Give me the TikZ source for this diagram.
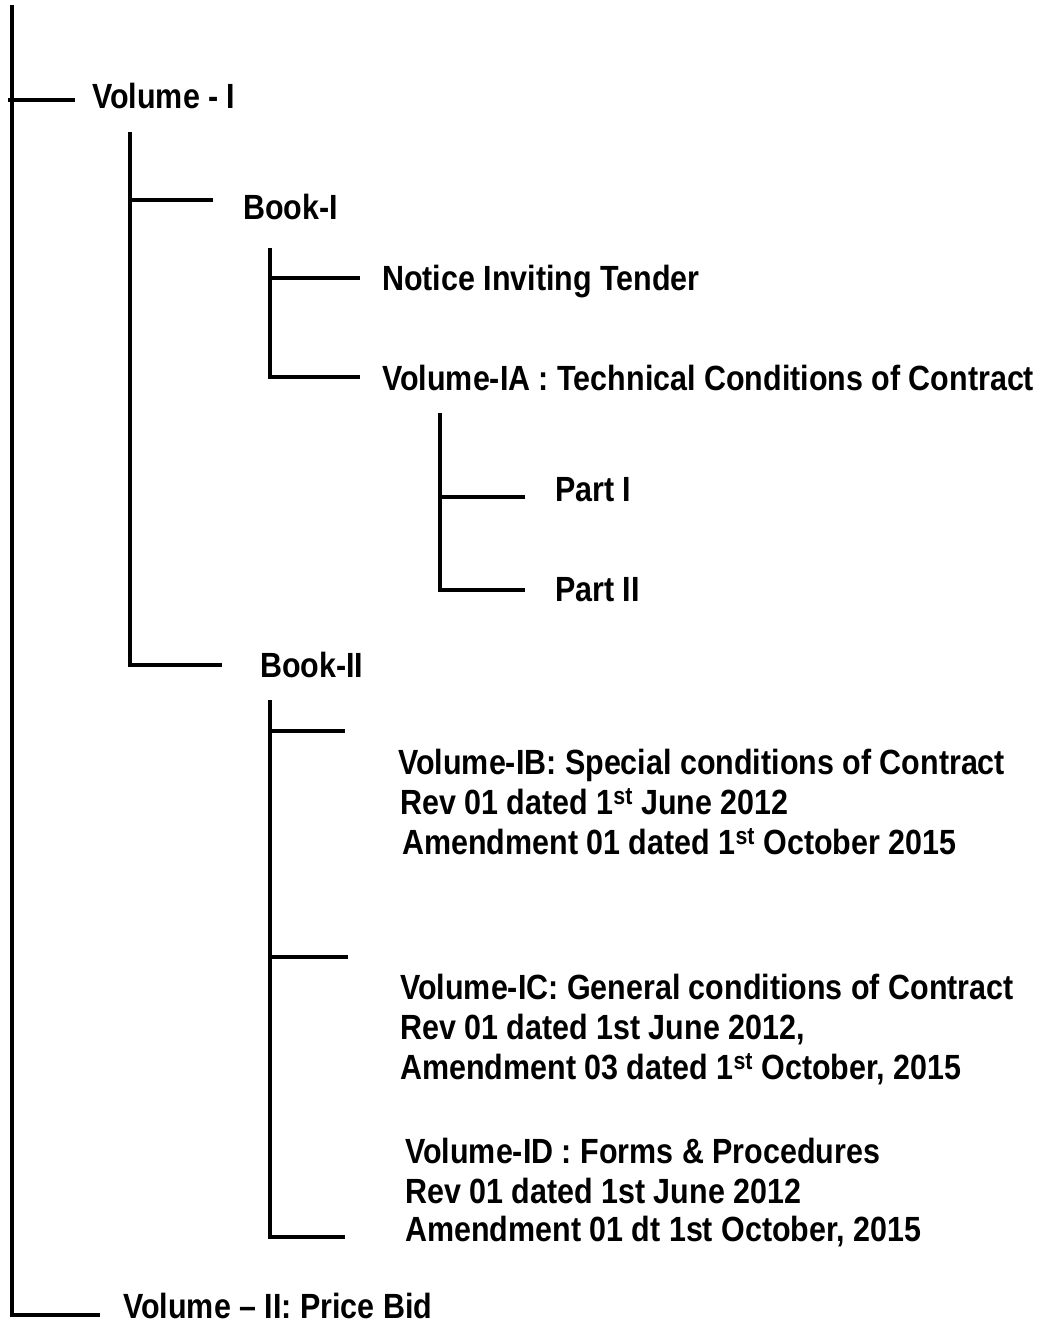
\documentclass[tikz,border=0pt]{standalone}
\usepackage{fontspec}
\setmainfont{Liberation Sans}[FakeStretch=0.87]
\tikzset{
  branch/.style={line width=4pt, black, line join=miter},
  item/.style={anchor=base west, inner sep=0pt, font=\bfseries\fontsize{35}{40}\selectfont}
}
\begin{document}
\begin{tikzpicture}[x=1pt, y=-1pt]
  \useasboundingbox (0,0) rectangle (1046,1327);

  % labels
  \node[item] (volI)   at (92,109)  {Volume - I};
  \node[item] (bookI)  at (243,219) {Book-I};
  \node[item] (nit)    at (382,290) {Notice Inviting Tender};
  \node[item] (volIA)  at (382,390) {Volume-IA : Technical Conditions of Contract};
  \node[item] (partI)  at (555,501) {Part I};
  \node[item] (partII) at (555,601) {Part II};
  \node[item] (bookII) at (260,677) {Book-II};

  \node[item] (volIBa) at (398,774)  {Volume-IB: Special conditions of Contract};
  \node[item] (volIBb) at (400,814)  {Rev 01 dated 1\textsuperscript{st} June 2012};
  \node[item] (volIBc) at (402,854)  {Amendment 01 dated 1\textsuperscript{st} October 2015};

  \node[item] (volICa) at (400,999)  {Volume-IC: General conditions of Contract};
  \node[item] (volICb) at (400,1039) {Rev 01 dated 1st June 2012,};
  \node[item] (volICc) at (400,1079) {Amendment 03 dated 1\textsuperscript{st} October, 2015};

  \node[item] (volIDa) at (405,1163) {Volume-ID : Forms \& Procedures};
  \node[item] (volIDb) at (405,1203) {Rev 01 dated 1st June 2012};
  \node[item] (volIDc) at (405,1241) {Amendment 01 dt 1st October, 2015};

  \node[item] (volII)  at (123,1318) {Volume -- II: Price Bid};

  % roots of the trunks
  \coordinate (rootTop)    at (12,5);
  \coordinate (volIRoot)   at (130,132);
  \coordinate (bookIRoot)  at (270,248);
  \coordinate (volIARoot)  at (440,413);
  \coordinate (bookIIRoot) at (270,700);

  % free ends of the branches
  \coordinate (toVolI)   at (75,100);
  \coordinate (toVolII)  at (100,1315);
  \coordinate (toBookI)  at (213,200);
  \coordinate (toBookII) at (222,665);
  \coordinate (toNit)    at (360,278);
  \coordinate (toVolIA)  at (360,377);
  \coordinate (toPartI)  at (525,497);
  \coordinate (toPartII) at (525,590);
  \coordinate (toVolIB)  at (345,731);
  \coordinate (toVolIC)  at (348,957);
  \coordinate (toVolID)  at (345,1237);

  \draw[branch] (rootTop) |- (toVolII);
  \draw[branch] (rootTop |- toVolI) ++(-4,0) -- (toVolI);

  \draw[branch] (volIRoot) |- (toBookII);
  \draw[branch] (volIRoot |- toBookI) -- (toBookI);

  \draw[branch] (bookIRoot) |- (toVolIA);
  \draw[branch] (bookIRoot |- toNit) -- (toNit);

  \draw[branch] (volIARoot) |- (toPartII);
  \draw[branch] (volIARoot |- toPartI) -- (toPartI);

  \draw[branch] (bookIIRoot) |- (toVolID);
  \draw[branch] (bookIIRoot |- toVolIB) -- (toVolIB);
  \draw[branch] (bookIIRoot |- toVolIC) -- (toVolIC);
\end{tikzpicture}
\end{document}
